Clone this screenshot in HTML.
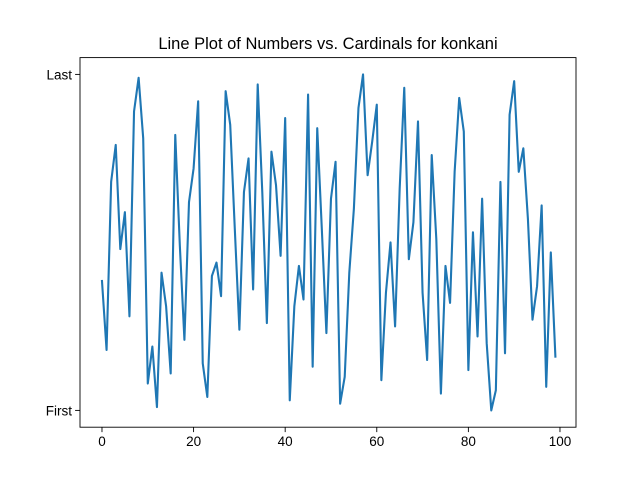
<!DOCTYPE html>
<html><head><meta charset="utf-8"><style>
body{margin:0;background:#fff;}
svg{display:block;font-family:"Liberation Sans","DejaVu Sans",sans-serif;}
</style></head><body>
<svg id="chart" width="640" height="480">
<rect width="640" height="480" fill="#fff"/>
<text x="328" y="49" text-anchor="middle" font-size="16.5" fill="#000">Line Plot of Numbers vs. Cardinals for konkani</text>
<g id="plot"></g>
<rect x="80" y="57.6" width="496" height="369.6" fill="none" stroke="#000" stroke-width="0.9"/>
</svg>
<script>
const xTicks=[0,20,40,60,80,100];
const yTickValues=[0,100];
const yTickLabels=["First","Last"];
const values=[38.5,18,68,79,48,59,28,89,99,81,8,19,1,41,31,11,82,49,21,62,72,92,14,4,40,44,34,95,85,54,24,65,75,36,97,65,26,77,67,46,87,3,31,43,33,94,13,84,54,23,63,74,2,10,41,60,90,100,70,80,91,9,35,50,25,66,96,45,56,86,35,15,76,51,5,43,32,71,93,83,12,53,22,63,20,0,6,68,17,88,98,71,78,57,27,37,61,7,47,16];
const L=80,R=576,T=57.6,B=427.2;
const xMin=-4.8,xMax=103.5,yMin=-5,yMax=105;
const sx=v=>L+(v-xMin)/(xMax-xMin)*(R-L);
const sy=v=>B-(v-yMin)/(yMax-yMin)*(B-T);
const NS="http://www.w3.org/2000/svg";
const g=document.getElementById('plot');
function mk(t,a){const e=document.createElementNS(NS,t);for(const k in a)e.setAttribute(k,a[k]);g.appendChild(e);return e;}
xTicks.forEach(t=>{
  const l=mk('line',{x1:sx(t),x2:sx(t),y1:B,y2:B+4.9,stroke:'#000','stroke-width':0.9});
  
  
  const tx=mk('text',{x:sx(t),y:B+19,'text-anchor':'middle','font-size':'13.5',fill:'#000'});
  tx.textContent=t;
  
  
});
yTickValues.forEach((t,i)=>{
  const l=mk('line',{x1:L-4.9,x2:L,y1:sy(t),y2:sy(t),stroke:'#000','stroke-width':0.9});
  
  
  const tx=mk('text',{x:L-8,y:sy(t)+5,'text-anchor':'end','font-size':'13.5',fill:'#000'});
  tx.textContent=yTickLabels[i];
  
  
});
const p=mk('polyline',{points:values.map((v,i)=>sx(i)+','+sy(v)).join(' '),fill:'none',stroke:'#1f77b4','stroke-width':2.1,'stroke-linejoin':'round','stroke-linecap':'square'});


</script>
</body></html>
